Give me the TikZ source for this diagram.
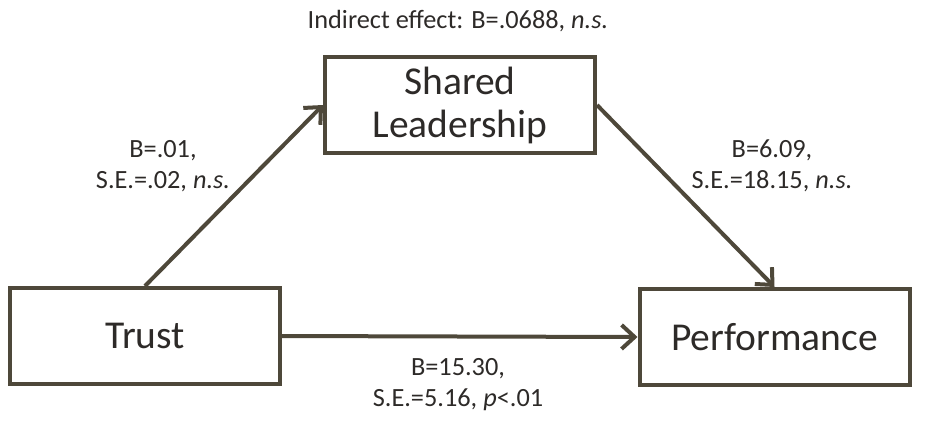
\documentclass[tikz,border=0pt]{standalone}
\usepackage{fontspec}
\setmainfont{Carlito}
\usetikzlibrary{arrows.meta}
\definecolor{edge}{RGB}{78,72,58}
\definecolor{ink}{RGB}{45,42,40}
\begin{document}
\begin{tikzpicture}[x=1pt,y=-1pt,
  var/.style={draw=edge, line width=4pt, minimum width=270pt, minimum height=96pt,
    inner sep=0pt, align=center, text=ink, font=\fontsize{39.5}{43}\selectfont},
  path/.style={draw=edge, line width=4pt,
    -{Straight Barb[length=13pt,width=24pt,line width=4pt]}},
  est/.style={align=center, text=ink, font=\fontsize{26.3}{31}\selectfont}]
  \useasboundingbox (0,0) rectangle (944,426);
  % variables
  \node[var] (shared) at (460,105) {Shared\\Leadership};
  \node[var] (trust) at (145,336) {Trust};
  \node[var] (perf) at (774.5,337) {Performance};
  % paths
  \draw[path] (trust.north) -- (shared.west);
  \draw[path] (shared.east) -- (perf.north);
  \draw[path] (trust.east) -- (perf.west);
  % estimates
  \node[est] (ind) at (458,21) {Indirect effect: B=.0688, \textit{n.s.}};
  \node[est] (a) at (163,166) {B=.01,\\S.E.=.02, \textit{n.s.}};
  \node[est] (b) at (772,166) {B=6.09,\\S.E.=18.15, \textit{n.s.}};
  \node[est] (c) at (458,385) {B=15.30,\\S.E.=5.16, \textit{p}<.01};
\end{tikzpicture}
\end{document}
